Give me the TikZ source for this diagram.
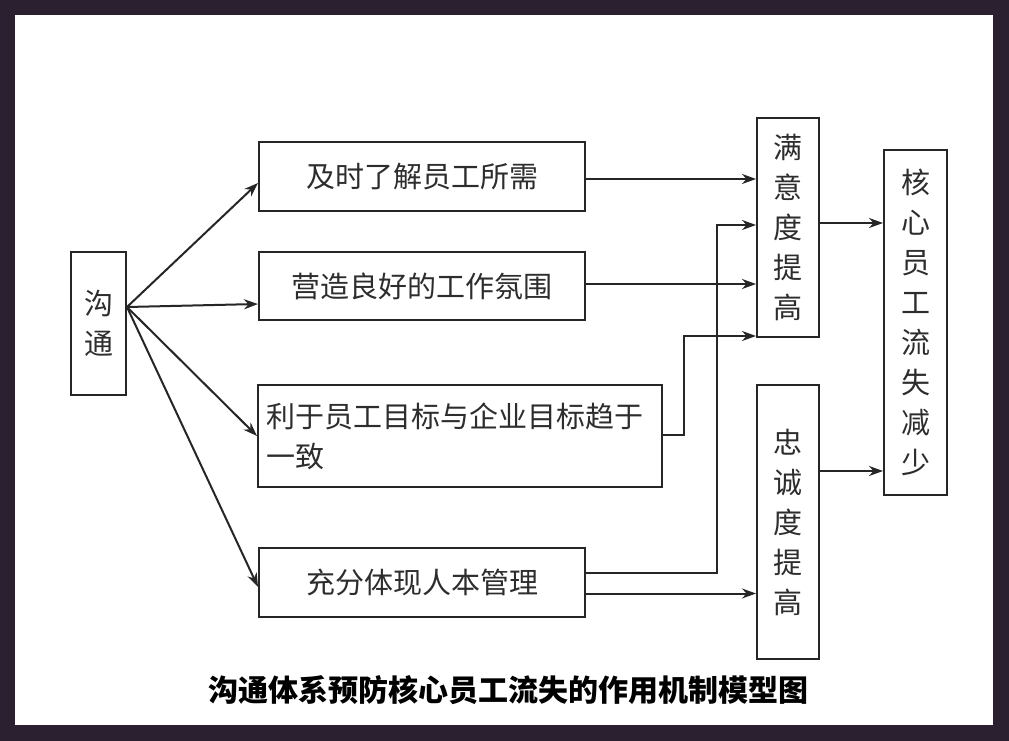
\documentclass[tikz,border=0pt]{standalone}
\usepackage{fontspec}
\newfontfamily\cjk{Noto Sans CJK SC}
\usetikzlibrary{arrows.meta}
\definecolor{framec}{RGB}{42,32,48}
\definecolor{linec}{RGB}{38,38,38}
\definecolor{textc}{RGB}{45,45,45}
\begin{document}
\begin{tikzpicture}[x=1pt,y=-1pt,line width=2pt,
  box/.style={draw=linec,text=textc,inner sep=0pt,align=center,font=\cjk\fontsize{29}{40}\selectfont},
  arr/.style={draw=linec,-{Stealth[length=14pt,width=10pt]}}]
\fill[framec] (0,0) rectangle (1009,741);
\fill[white] (15,15) rectangle (993,725);
\node[box,minimum width=55pt,minimum height=143pt] (gt) at (98.5,323.5) {沟\\通};
\node[box,minimum width=326pt,minimum height=68pt] (ja) at (422,176.5) {及时了解员工所需};
\node[box,minimum width=326pt,minimum height=68pt] (yz) at (422,286) {营造良好的工作氛围};
\node[box,minimum width=404pt,minimum height=102pt,text width=388pt,align=left] (lg) at (460,436) {利于员工目标与企业目标趋于\\一致};
\node[box,minimum width=326pt,minimum height=69pt] (cf) at (422,582.5) {充分体现人本管理};
\node[box,minimum width=62pt,minimum height=219pt] (myd) at (788,227.5) {满\\意\\度\\提\\高};
\node[box,minimum width=62pt,minimum height=274pt] (zcd) at (788,522) {忠\\诚\\度\\提\\高};
\node[box,minimum width=63pt,minimum height=345pt] (hx) at (915.5,322.5) {核\\心\\员\\工\\流\\失\\减\\少};
\node[text=black,font=\cjk\bfseries\fontsize{30}{30}\selectfont] (title) at (508,690) {沟通体系预防核心员工流失的作用机制模型图};
\coordinate (src) at ([yshift=16.5pt]gt.east);
\draw[arr] (src) -- ([yshift=-6.5pt]ja.west);
\draw[arr] (src) -- ([yshift=-18pt]yz.west);
\draw[arr] (src) -- (lg.west);
\draw[arr] (src) -- ([yshift=-4.5pt]cf.west);
\draw[arr] ([yshift=-2.5pt]ja.east) -- ([yshift=48.5pt]myd.west);
\draw[arr] ([yshift=2pt]yz.east) -- ([yshift=-56.5pt]myd.west);
\draw[arr] ([yshift=1pt]lg.east) -| ([xshift=-72pt,yshift=-108.5pt]myd.west) -- ([yshift=-108.5pt]myd.west);
\draw[arr] ([yshift=9.5pt]cf.east) -| ([xshift=-39pt,yshift=2.5pt]myd.west) -- ([yshift=2.5pt]myd.west);
\draw[arr] ([yshift=-11pt]cf.east) -- ([yshift=-71.5pt]zcd.west);
\draw[arr] ([yshift=4.5pt]myd.east) -- ([yshift=99.5pt]hx.west);
\draw[arr] ([yshift=51pt]zcd.east) -- ([yshift=-148.5pt]hx.west);
\end{tikzpicture}
\end{document}
